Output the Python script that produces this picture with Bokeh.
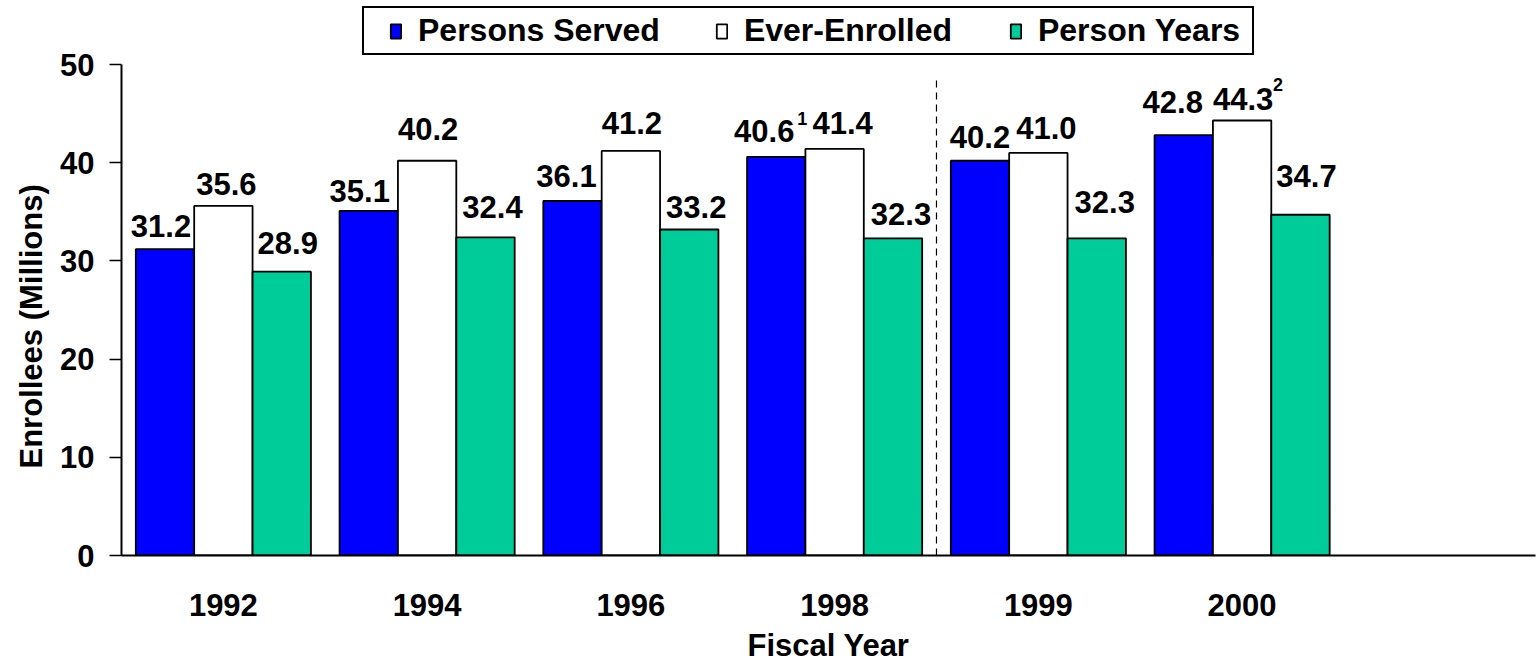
from bokeh.plotting import figure
from bokeh.models import (ColumnDataSource, Range1d, FixedTicker, Legend, LegendItem, Title)
from bokeh.transform import dodge
from bokeh.core.properties import value
from bokeh.embed import file_html
from bokeh.resources import INLINE

# ---------------- data ----------------
years = ["1992", "1994", "1996", "1998", "1999", "2000"]
persons_served = [31.2, 35.1, 36.1, 40.6, 40.2, 42.8]
ever_enrolled = [35.6, 40.2, 41.2, 41.4, 41.0, 44.3]
person_years = [28.9, 32.4, 33.2, 32.3, 32.3, 34.7]
served_notes = ["", "", "", "1", "", ""]
enrolled_notes = ["", "", "", "", "", "2"]
series_names = ["Persons Served", "Ever-Enrolled", "Person Years"]
y_ticks = [0, 10, 20, 30, 40, 50]
y_axis_max = 50
break_after = "1998"   # dashed separator after this year
separator_top = 48.7

# ---------------- styles ----------------
FONT = "Liberation Sans"
BLUE = "#0000FF"
WHITE = "#FFFFFF"
GREEN = "#00CC99"
BW = 0.2865
ASCENT = 24.5   # px from em-top to baseline at 31px
# per-label nudges (dx px, gap px between baseline and bar top), per series, per year
LABEL_NUDGE = {
    "served":   [(-4, 10), (-9, 6), (-6, 12), (-12, 12), (0, 10), (-11, 20)],
    "enrolled": [(3, 8), (1, 18), (1, 14), (8, 12), (8, 11), (1, 8)],
    "pyears":   [(6, 15), (7, 17), (7, 9), (8, 11), (8, 23), (6, 25)],
}
SUP_OFFSET = {"served": (21, -45), "enrolled": (31, -42)}

idx = list(range(len(years)))
src = ColumnDataSource(dict(idx=idx, served=persons_served, enrolled=ever_enrolled,
                            pyears=person_years))
for key, vals in (("served", persons_served), ("enrolled", ever_enrolled),
                  ("pyears", person_years)):
    src.data[key + "_lbl"] = [f"{v:.1f}" for v in vals]
    src.data[key + "_dx"] = [d[0] for d in LABEL_NUDGE[key]]
    src.data[key + "_dy"] = [-(d[1] + ASCENT) for d in LABEL_NUDGE[key]]

p = figure(width=1539, height=665, output_backend="svg", toolbar_location=None,
           x_range=Range1d(-0.5, 6.44), y_range=Range1d(0, 56.52),
           min_border_left=121, min_border_right=4, min_border_top=0,
           min_border_bottom=110)
p.outline_line_color = None
p.grid.visible = False
p.background_fill_color = "white"

bar_kw = dict(width=BW, source=src, line_color="black", line_width=1.8)
r1 = p.vbar(x=dodge("idx", -BW, range=p.x_range), top="served", fill_color=BLUE, **bar_kw)
r2 = p.vbar(x=dodge("idx", 0, range=p.x_range), top="enrolled", fill_color=WHITE, **bar_kw)
r3 = p.vbar(x=dodge("idx", BW, range=p.x_range), top="pyears", fill_color=GREEN, **bar_kw)

lbl_kw = dict(text_font=value(FONT), text_font_style="bold", text_font_size="31px",
              text_align="center", text_baseline="top", text_color="black", source=src)
for key, off in (("served", -BW), ("enrolled", 0), ("pyears", BW)):
    p.text(x=dodge("idx", off, range=p.x_range), y=key, text=key + "_lbl",
           x_offset=key + "_dx", y_offset=key + "_dy", **lbl_kw)

# superscript notes
def note_source(notes, vals):
    ii = [i for i, n in enumerate(notes) if n]
    return ColumnDataSource(dict(idx=ii, y=[vals[i] for i in ii], t=[notes[i] for i in ii]))

sup_kw = dict(text_font=value(FONT), text_font_style="bold", text_font_size="18px",
              text_align="left", text_baseline="top", text_color="black")
for key, notes, vals, off in (("served", served_notes, persons_served, -BW),
                              ("enrolled", enrolled_notes, ever_enrolled, 0)):
    p.text(x=dodge("idx", off, range=p.x_range), y="y", text="t",
           source=note_source(notes, vals),
           x_offset=SUP_OFFSET[key][0], y_offset=SUP_OFFSET[key][1], **sup_kw)

# dashed separator between 1998 and 1999
sep_x = years.index(break_after) + 0.5
p.segment(x0=[sep_x], y0=[0], x1=[sep_x], y1=[separator_top],
          line_color="black", line_width=1.2, line_dash="7 5")

# axes
p.yaxis.ticker = FixedTicker(ticks=y_ticks)
p.yaxis.bounds = (0, y_axis_max)
p.xaxis.ticker = FixedTicker(ticks=idx)
p.xaxis.major_label_overrides = {i: y for i, y in zip(idx, years)}
p.xaxis.axis_label = "Fiscal Year"
for ax in (p.xaxis[0], p.yaxis[0]):
    ax.axis_line_color = "black"
    ax.axis_line_width = 2
    ax.major_label_text_font = FONT
    ax.major_label_text_font_style = "bold"
    ax.major_label_text_font_size = "31px"
    ax.major_label_text_color = "black"
    ax.axis_label_text_font = FONT
    ax.axis_label_text_font_style = "bold"
    ax.axis_label_text_font_size = "31px"
    ax.axis_label_text_color = "black"
    ax.minor_tick_line_color = None
p.yaxis.major_tick_out = 12
p.yaxis.major_tick_in = 0
p.yaxis.major_tick_line_width = 1.5
p.yaxis.major_label_standoff = 15
p.xaxis.major_tick_line_color = None
p.xaxis.major_tick_out = 0
p.xaxis.major_tick_in = 0
p.xaxis.major_label_standoff = 38
p.xaxis.axis_label_standoff = 9

ytitle = Title(text="Enrollees (Millions)", align="left", offset=87, standoff=18,
               text_font=FONT, text_font_style="bold", text_font_size="31px",
               text_color="black")
p.add_layout(ytitle, "left")

legend = Legend(items=[LegendItem(label=series_names[0], renderers=[r1]),
                       LegendItem(label=series_names[1], renderers=[r2]),
                       LegendItem(label=series_names[2], renderers=[r3])],
                orientation="horizontal", location=(241, 500),
                title=" ", title_location="left", title_standoff=10,
                title_text_font=FONT, title_text_font_size="10px",
                label_text_font=FONT, label_text_font_style="bold",
                label_text_font_size="32px", label_text_color="black",
                glyph_width=13, glyph_height=18, label_standoff=16, spacing=55,
                label_width=210,
                padding=4, margin=0, border_line_color="black", border_line_width=2,
                border_line_alpha=1,
                background_fill_color="white", background_fill_alpha=1)
p.add_layout(legend)

open("out.html", "w").write(file_html(p, INLINE))
